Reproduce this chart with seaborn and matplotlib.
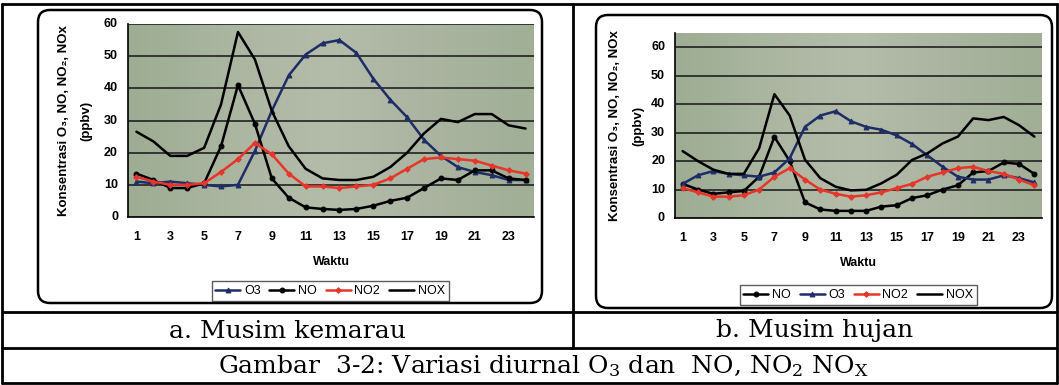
import numpy as np
import pandas as pd
import seaborn as sns
import matplotlib
matplotlib.use("Agg")
import matplotlib.pyplot as plt
from matplotlib.lines import Line2D
from matplotlib.patches import FancyBboxPatch

# hours on the category axis
hours = list(range(1, 25))
tick_hours = [1, 3, 5, 7, 9, 11, 13, 15, 17, 19, 21, 23]

# a. dry season (musim kemarau)
a_o3 = [11, 10.5, 11, 10.5, 10, 9.5, 10, 20.5, 33, 44, 50.5, 54, 55, 51, 43, 36.5, 31, 24, 19, 15.5, 14, 13, 11.5, 11.5]
a_no = [13.5, 11.5, 9, 9, 10.5, 22, 41, 29, 12, 6, 3, 2.5, 2.2, 2.5, 3.5, 5, 6, 9, 12, 11.5, 14.5, 14.5, 12, 11.5]
a_no2 = [12.5, 11, 10, 10, 10.5, 14, 18, 23, 19.5, 13.5, 9.5, 9.5, 9, 9.5, 10, 12, 15, 18, 18.5, 18, 17.5, 16, 14.5, 13.5]
a_nox = [26.5, 23.5, 19, 19, 21.5, 35, 57.5, 49, 33, 22, 15, 12, 11.5, 11.5, 12.5, 15.5, 20, 26, 30.5, 29.5, 32, 32, 28.5, 27.5]

# b. rainy season (musim hujan)
b_no = [12, 10, 8.5, 9, 9.5, 14.5, 28.5, 20, 5.5, 3, 2.5, 2.5, 2.5, 4, 4.5, 7, 8, 10, 11.5, 16, 16.5, 19.5, 19, 15.5]
b_o3 = [12, 15, 16.5, 15.5, 15, 14.5, 16, 21, 32, 36, 37.5, 34, 32, 31, 29, 26, 22, 18, 14.5, 13.5, 13.5, 15, 14, 12.5]
b_no2 = [10.5, 9, 7.5, 7.5, 8, 10, 14.5, 17.5, 13.5, 10, 8.5, 7.5, 8, 9, 10.5, 12, 14.5, 16, 17.5, 18, 16.5, 15.5, 13.5, 11.5]
b_nox = [23.5, 20, 17, 15.5, 15.5, 24.5, 43.5, 36, 20.5, 14, 11, 9.7, 9.9, 12.2, 15.2, 20.4, 22.7, 26.2, 28.6, 35, 34.4, 35.5, 32.6, 28.6]

W, H = 1059, 385
sns.set_theme(style="white")
plt.rcParams["font.family"] = ["Liberation Sans", "DejaVu Sans"]
plt.rcParams["text.color"] = "black"
plt.rcParams["mathtext.fontset"] = "dejavuserif"

fig = plt.figure(figsize=(W / 100, H / 100), dpi=100)
fig.patch.set_facecolor("white")


def fbox(x0, y0, x1, y1):
    return [x0 / W, 1 - y1 / H, (x1 - x0) / W, (y1 - y0) / H]


def hline(x0, x1, y, lw=2.0):
    fig.add_artist(Line2D([x0 / W, x1 / W], [1 - y / H, 1 - y / H], color="black", lw=lw, transform=fig.transFigure))


def vline(x, y0, y1, lw=2.0):
    fig.add_artist(Line2D([x / W, x / W], [1 - y0 / H, 1 - y1 / H], color="black", lw=lw, transform=fig.transFigure))


# table around the two charts
hline(2, 1057, 4)
hline(2, 1057, 312)
hline(2, 1057, 348)
hline(2, 1057, 383)
vline(2, 4, 383)
vline(1057, 4, 383)
vline(573, 4, 348)

# rounded chart frames (pixel coords, origin bottom-left), kept under the axes
for x0, y0, x1, y1 in [(38, 10, 542, 303), (596, 15, 1052, 308)]:
    fig.add_artist(FancyBboxPatch((x0, H - y1), x1 - x0, y1 - y0,
                                  boxstyle="round,pad=0,rounding_size=12",
                                  transform=None, fc="white", ec="black", lw=1.8,
                                  zorder=-5))

styles = {
    "O3": dict(color="#1e2d66", marker="^", markersize=3.5),
    "NO": dict(color="black", marker="o", markersize=3.5),
    "NO2": dict(color="#e8352a", marker="D", markersize=2.8),
    "NOX": dict(color="black", marker=None),
}

grad = np.linspace(0, 1, 256).reshape(1, -1)
bg_cmap = matplotlib.colors.LinearSegmentedColormap.from_list(
    "bg", ["#9dac93", "#abb6a1", "#b4bcaa", "#aab4a0", "#a1af97"])


def panel(rect, ymax, series, order, label_x, ppbv_x, ytick_right, tick_y, waktu_y, leg_xy):
    ax = fig.add_axes(fbox(*rect))
    ax.imshow(grad, aspect="auto", cmap=bg_cmap, extent=[0, 1, 0, 1],
              transform=ax.transAxes, zorder=0)
    df = pd.DataFrame({"Waktu": hours, **series})
    for name in order:
        st = styles[name]
        sns.lineplot(data=df, x="Waktu", y=name, ax=ax, color=st["color"],
                     marker=st["marker"], markersize=st.get("markersize", 0),
                     markeredgecolor=st["color"], lw=1.8, label=name, zorder=3)
    ax.set_xlim(0.5, 24.5)
    ax.set_ylim(0, ymax)
    ax.set_yticks(range(0, 61, 10))
    ax.set_xticks(tick_hours)
    ax.set_xticks(np.arange(0.5, 25, 1), minor=True)
    ax.tick_params(axis="x", which="major", length=0, labelbottom=False)
    ax.tick_params(axis="x", which="minor", length=3, width=1, color="black", direction="out")
    ax.tick_params(axis="y", length=3, width=1, color="black", direction="out", labelleft=False)
    ax.yaxis.grid(True, color="#151515", lw=1.1)
    ax.xaxis.grid(False)
    ax.set_axisbelow(False)
    for s in ["top", "right"]:
        ax.spines[s].set_visible(False)
    for s in ["left", "bottom"]:
        ax.spines[s].set_color("black")
        ax.spines[s].set_linewidth(1.2)
    ax.set_xlabel("")
    ax.set_ylabel("")

    # tick labels and titles placed in pixel positions of the scan
    x0, y0, x1, y1 = rect
    for v in range(0, 61, 10):
        py = y1 - (y1 - y0) * v / ymax
        fig.text(ytick_right / W, 1 - py / H, str(v), ha="right", va="center",
                 fontsize=9, fontweight="bold")
    for h in tick_hours:
        px = x0 + (x1 - x0) * (h - 0.5) / 24
        fig.text(px / W, 1 - tick_y / H, str(h), ha="center", va="center",
                 fontsize=9, fontweight="bold")
    fig.text((x0 + x1) / 2 / W, 1 - waktu_y / H, "Waktu", ha="center", va="center",
             fontsize=9, fontweight="bold")
    yc = 1 - (y0 + y1) / 2 / H
    fig.text(label_x / W, yc, "Konsentrasi O₃, NO, NO₂, NOx", rotation=90,
             ha="center", va="center", fontsize=9.5, fontweight="bold")
    fig.text(ppbv_x / W, yc, "(ppbv)", rotation=90, ha="center", va="center",
             fontsize=9.5, fontweight="bold")

    leg = ax.legend(loc="center", bbox_to_anchor=(leg_xy[0] / W, 1 - leg_xy[1] / H),
                    bbox_transform=fig.transFigure, ncol=4, frameon=True,
                    fancybox=False, fontsize=9, handlelength=2.0, handletextpad=0.3,
                    columnspacing=0.7, borderpad=0.3, borderaxespad=0)
    leg.get_frame().set_edgecolor("#333333")
    leg.get_frame().set_linewidth(1.0)
    leg.get_frame().set_facecolor("white")
    for t in leg.get_texts():
        t.set_color("black")
    return ax


panel((128, 24, 534, 217), 60,
      {"O3": a_o3, "NO": a_no, "NO2": a_no2, "NOX": a_nox},
      ["O3", "NO", "NO2", "NOX"],
      label_x=64, ppbv_x=86, ytick_right=118, tick_y=237, waktu_y=262, leg_xy=(330, 291))

panel((675, 33, 1042, 218), 65,
      {"NO": b_no, "O3": b_o3, "NO2": b_no2, "NOX": b_nox},
      ["NO", "O3", "NO2", "NOX"],
      label_x=615, ppbv_x=638, ytick_right=665, tick_y=238, waktu_y=263, leg_xy=(858, 295))

# captions
cap = dict(family="DejaVu Serif", fontsize=18, ha="center", va="center", color="black")
fig.text(287 / W, 1 - 331 / H, "a. Musim kemarau", **cap)
fig.text(815 / W, 1 - 331 / H, "b. Musim hujan", **cap)
fig.text(543 / W, 1 - 366 / H,
         r"Gambar  3-2: Variasi diurnal O$_3$ dan  NO, NO$_2$ NO$_\mathrm{X}$", **cap)

fig.savefig("out.png", dpi=100)
